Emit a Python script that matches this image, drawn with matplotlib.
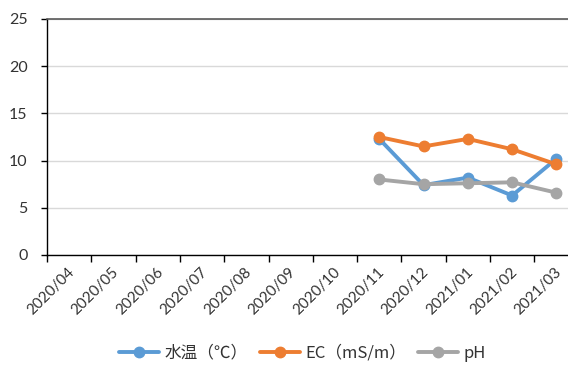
import matplotlib
matplotlib.use("Agg")
import matplotlib.pyplot as plt
import matplotlib.transforms as mtransforms
import numpy as np

plt.rcParams['font.family'] = ['Noto Sans CJK JP', 'DejaVu Sans']

months = ["2020/04", "2020/05", "2020/06", "2020/07", "2020/08", "2020/09",
          "2020/10", "2020/11", "2020/12", "2021/01", "2021/02", "2021/03"]
data_months = ["2020/11", "2020/12", "2021/01", "2021/02", "2021/03"]
water_temp = [12.3, 7.4, 8.2, 6.3, 10.2]
ec = [12.5, 11.5, 12.3, 11.2, 9.6]
ph = [8.0, 7.5, 7.6, 7.7, 6.6]

series = [
    ("水温（℃）", water_temp, "#5B9BD5"),
    ("EC（mS/m）", ec, "#ED7D31"),
    ("pH", ph, "#A5A5A5"),
]

fig = plt.figure(figsize=(5.68, 3.68), dpi=100)
ax = fig.add_axes([47 / 568, 1 - 255 / 368, 1 - 47 / 568, (255 - 19) / 368])

# points sit in the middle of each month slot, ticks at the slot boundaries
xpos = [months.index(m) + 0.5 for m in data_months]
for label, vals, color in series:
    ax.plot(xpos, vals, color=color, linewidth=2.8, marker="o", markersize=7.5,
            label=label, solid_capstyle="round")

ax.set_xlim(0, (568 - 47) / 44.3)
ax.set_ylim(0, 25)
ax.set_yticks(np.arange(0, 26, 5))
ax.set_xticks(range(len(months)))
ax.set_xticklabels(months, rotation=45, ha="center")

ax.grid(axis="y", color="#D9D9D9", linewidth=1)
ax.set_axisbelow(True)
ax.spines["right"].set_visible(False)
ax.spines["top"].set_color("#595959")
ax.spines["top"].set_linewidth(1.2)
for side in ("left", "bottom"):
    ax.spines[side].set_color("#000000")
    ax.spines[side].set_linewidth(1)

ax.tick_params(axis="y", length=4, width=1, colors="#000000", labelcolor="#333333",
               labelsize=11.5, pad=10)
ax.tick_params(axis="x", length=5, width=1, colors="#000000", labelcolor="#333333",
               labelsize=11, pad=2)
for t in ax.get_yticklabels() + ax.get_xticklabels():
    t.set_fontfamily(["Lato", "DejaVu Sans"])
shift = mtransforms.ScaledTranslation(4 / 100, 0, fig.dpi_scale_trans)
for t in ax.get_xticklabels():
    t.set_transform(t.get_transform() + shift)

fig.legend(loc="center", bbox_to_anchor=(0.533, 1 - 353 / 368), ncol=3, frameon=False,
           fontsize=12, handlelength=2.4, columnspacing=0.7, handletextpad=0.35,
           labelcolor="#333333")

fig.savefig("out.png", dpi=100)
